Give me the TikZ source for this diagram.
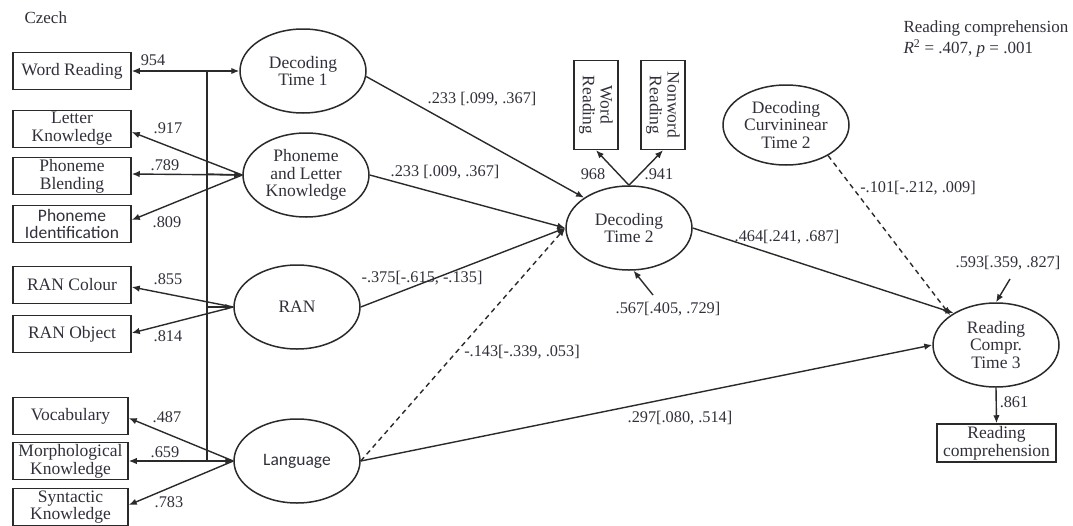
\documentclass[tikz,border=0pt]{standalone}
\usepackage{fontspec}
\setmainfont{Liberation Serif}
\newfontfamily\sansalt{Carlito}
\usetikzlibrary{shapes.geometric,arrows.meta}
\definecolor{ln}{HTML}{2A2A2A}
\definecolor{txt}{HTML}{30303A}

\begin{document}
\begin{tikzpicture}[x=1pt,y=-1pt,
  every node/.style={text=txt},
  lat/.style={ellipse,draw=ln,line width=1.5pt,minimum width=126pt,minimum height=84pt,
    inner sep=0pt,align=center,font=\fontsize{17.5}{17.8}\selectfont},
  ind/.style={draw=ln,line width=1.5pt,minimum width=118pt,minimum height=37pt,
    inner sep=0pt,align=center,font=\fontsize{17.5}{17.8}\selectfont},
  indv/.style={ind,minimum width=89pt,minimum height=44pt,rotate=-90},
  lbl/.style={font=\fontsize{16.3}{17}\selectfont,inner sep=0pt},
  link/.style={draw=ln,line width=1.4pt,-{Latex[length=8pt,width=6.5pt]}},
  dlink/.style={link,dash pattern=on 5pt off 4pt},
  plain/.style={draw=ln,line width=1.4pt}]
\useasboundingbox (0,0) rectangle (1073,525);

% titles
\node[anchor=west,font=\fontsize{17}{17.5}\selectfont] (ttl) at (21,18) {Czech};
\node[anchor=west,font=\fontsize{17}{21}\selectfont,align=left] (r2) at (900,39)
  {Reading comprehension\\ \textit{R}\textsuperscript{2} = .407, \textit{p} = .001};

% observed indicators, left column
\node[ind] (wr)  at (72,71)  {Word Reading};
\node[ind] (lk)  at (72,129) {Letter\\Knowledge};
\node[ind] (pb)  at (72,176) {Phoneme\\Blending};
\node[ind,font=\sansalt\fontsize{17.5}{17.8}\selectfont] (pi) at (72,224) {Phoneme\\Identification};
\node[ind] (rc1) at (72,285) {RAN Colour};
\node[ind] (ro)  at (72,334) {RAN Object};
\node[ind,minimum width=115pt] (voc) at (70.5,416) {Vocabulary};
\node[ind,minimum width=115pt] (mk)  at (70.5,461) {Morphological\\Knowledge};
\node[ind,minimum width=115pt] (sk)  at (70.5,507) {Syntactic\\Knowledge};

% latent variables
\node[lat] (dt1)  at (303,71)  {Decoding\\Time 1};
\node[lat] (plk)  at (306,175) {Phoneme\\and Letter\\Knowledge};
\node[lat] (ran)  at (297,307) {RAN};
\node[lat,font=\sansalt\fontsize{17.5}{17.8}\selectfont] (lang) at (297,461) {Language};
\node[lat] (dt2)  at (629,228) {Decoding\\Time 2};
\node[lat,minimum height=80pt] (curv) at (786,125) {Decoding\\Curvininear\\Time 2};
\node[lat] (rct3) at (996,345) {Reading\\Compr.\\Time 3};

% observed indicators, right side
\node[indv] (wrv) at (596,105) {Word\\Reading};
\node[indv] (nwr) at (663,105) {Nonword\\Reading};
\node[ind,minimum width=119pt,minimum height=38pt] (rcb) at (996.5,443) {Reading\\comprehension};

% correlation bracket among the predictors
\coordinate (k1) at (207,71);
\coordinate (k2) at (207,174);
\coordinate (k3) at (207,307);
\coordinate (k4) at (207,461);
\draw[plain] (k1) -- (k4);
\draw[link] (k1) -- (dt1.west);
\draw[link] (k2) -- (plk.west);
\draw[link] (k3) -- (ran.west);
\draw[link] (k4) -- (lang.west);

% loadings
\draw[link] (k1) -- (wr.east);
\draw[link] (plk.west) -- (lk.east |- 0,132);
\draw[link] (plk.west) -- (pb.east |- 0,174);
\draw[link] (plk.west) -- (pi.east |- 0,220);
\draw[link] (ran.west) -- (rc1.east |- 0,287);
\draw[link] (ran.west) -- (ro.east |- 0,333);
\draw[link] (lang.west) -- (voc.east |- 0,418);
\draw[link] (lang.west) -- (mk.east);
\draw[link] (lang.west) -- (sk.east |- 0,505);
\draw[link] (dt2.north) -- (wrv.east);
\draw[link] (dt2.north) -- (nwr.east);
\draw[link] (rct3.south) -- (rcb.north);

\node[lbl] (l1) at (153,60)  {954};
\node[lbl] (l2) at (168,128) {.917};
\node[lbl] (l3) at (165,165) {.789};
\node[lbl] (l4) at (167,222) {.809};
\node[lbl] (l5) at (168,279) {.855};
\node[lbl] (l6) at (168,336) {.814};
\node[lbl] (l7) at (167,417) {.487};
\node[lbl] (l8) at (165,452) {.659};
\node[lbl] (l9) at (169,502) {.783};
\node[lbl] (l10) at (593,174) {968};
\node[lbl] (l11) at (659,174) {.941};
\node[lbl] (l12) at (1014,402) {.861};

% structural paths
\draw[link]  (dt1.-5)  -- (dt2.146);
\draw[link]  (plk.east) -- (dt2.west);
\draw[link]  (ran.east) -- (dt2.west);
\draw[dlink] (lang.east) -- (dt2.west);
\draw[link]  (lang.east) -- (rct3.west);
\draw[link]  (dt2.east) -- (rct3.143);
\draw[dlink] (curv.-36) -- (rct3.147);

\node[lbl] (p1) at (482,99)  {.233 [.099, .367]};
\node[lbl] (p2) at (445,172) {.233 [.009, .367]};
\node[lbl] (p3) at (422,278) {-.375[-.615, -.135]};
\node[lbl] (p4) at (522,352) {-.143[-.339, .053]};
\node[lbl] (p5) at (680,418) {.297[.080, .514]};
\node[lbl] (p6) at (787,237) {.464[.241, .687]};
\node[lbl] (p7) at (918,188) {-.101[-.212, .009]};

% residuals
\coordinate (e2) at (653,295);
\coordinate (e3) at (1010,279);
\draw[link] (e2) -- (dt2.-84);
\draw[link] (e3) -- (rct3.north);
\node[lbl] (p8) at (668,309)  {.567[.405, .729]};
\node[lbl] (p9) at (1008,263) {.593[.359, .827]};
\end{tikzpicture}
\end{document}
